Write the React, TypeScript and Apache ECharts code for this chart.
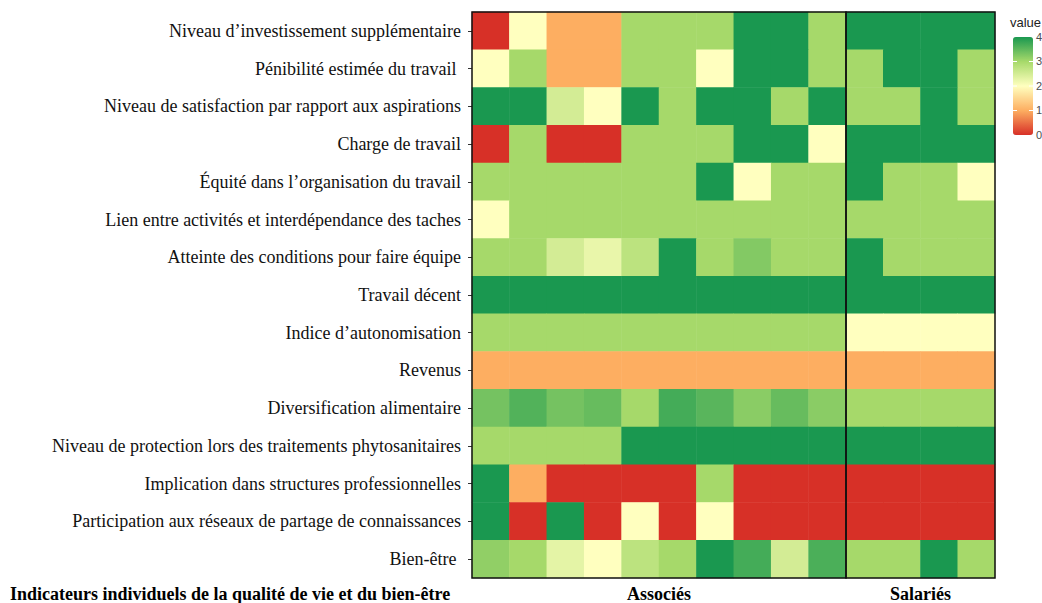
import React, { useEffect, useRef } from "react";
import * as echarts from "echarts";

const indicators = [
  "Niveau d’investissement supplémentaire",
  "Pénibilité estimée du travail ",
  "Niveau de satisfaction par rapport aux aspirations",
  "Charge de travail",
  "Équité dans l’organisation du travail",
  "Lien entre activités et interdépendance des taches",
  "Atteinte des conditions pour faire équipe",
  "Travail décent",
  "Indice d’autonomisation",
  "Revenus",
  "Diversification alimentaire",
  "Niveau de protection lors des traitements phytosanitaires",
  "Implication dans structures professionnelles",
  "Participation aux réseaux de partage de connaissances",
  "Bien-être ",
];

const associesCols = ["A1", "A2", "A3", "A4", "A5", "A6", "A7", "A8", "A9", "A10"];
const salariesCols = ["S1", "S2", "S3", "S4"];

const associesValues: number[][] = [
  [0, 2, 1, 1, 3, 3, 3, 4, 4, 3],
  [2, 3, 1, 1, 3, 3, 2, 4, 4, 3],
  [4, 4, 2.5, 2, 4, 3, 4, 4, 3, 4],
  [0, 3, 0, 0, 3, 3, 3, 4, 4, 2],
  [3, 3, 3, 3, 3, 3, 4, 2, 3, 3],
  [2, 3, 3, 3, 3, 3, 3, 3, 3, 3],
  [3, 3, 2.5, 2.25, 2.75, 4, 3, 3.25, 3, 3],
  [4, 4, 4, 4, 4, 4, 4, 4, 4, 4],
  [3, 3, 3, 3, 3, 3, 3, 3, 3, 3],
  [1, 1, 1, 1, 1, 1, 1, 1, 1, 1],
  [3.35, 3.6, 3.35, 3.45, 3, 3.7, 3.55, 3.2, 3.45, 3.2],
  [3, 3, 3, 3, 4, 4, 4, 4, 4, 4],
  [4, 1, 0, 0, 0, 0, 3, 0, 0, 0],
  [4, 0, 4, 0, 2, 0, 2, 0, 0, 0],
  [3.15, 3, 2.3, 2, 2.75, 3, 4, 3.7, 2.5, 3.65],
];

const salariesValues: number[][] = [
  [4, 4, 4, 4],
  [3, 4, 4, 3],
  [3, 3, 4, 3],
  [4, 4, 4, 4],
  [4, 3, 3, 2],
  [3, 3, 3, 3],
  [4, 3, 3, 3],
  [4, 4, 4, 4],
  [2, 2, 2, 2],
  [1, 1, 1, 1],
  [3, 3, 3, 3],
  [4, 4, 4, 4],
  [0, 0, 0, 0],
  [0, 0, 0, 0],
  [3, 3, 4, 3],
];

const legendTicks = [4, 3, 2, 1, 0];
const palette = ["#d73027", "#fdae61", "#ffffbf", "#a6d96a", "#1a9850"];

const G1 = { left: 472, top: 12, width: 374, height: 566 };
const G2 = { left: 846, top: 12, width: 149, height: 566 };
const BAR = { left: 1013, top: 37, width: 20, height: 98 };

function toData(rows: number[][]) {
  const out: number[][] = [];
  rows.forEach((row, r) => row.forEach((v, c) => out.push([c, r, v])));
  return out;
}

export default function App() {
  const ref = useRef<HTMLDivElement>(null);
  useEffect(() => {
    if (!ref.current) return;
    const chart = echarts.init(ref.current, undefined, { renderer: "svg" });
    const serif = "Liberation Serif";
    const sans = "Liberation Sans";
    const graphics: any[] = [
      {
        type: "rect",
        z: 100,
        shape: { x: G1.left, y: G1.top, width: G1.width, height: G1.height },
        style: { fill: "none", stroke: "#111", lineWidth: 1.5 },
      },
      {
        type: "rect",
        z: 100,
        shape: { x: G2.left, y: G2.top, width: G2.width, height: G2.height },
        style: { fill: "none", stroke: "#111", lineWidth: 1.5 },
      },
      {
        type: "text",
        left: 10,
        top: 585,
        style: {
          text: "Indicateurs individuels de la qualité de vie et du bien-être",
          fontFamily: serif,
          fontWeight: "bold",
          fontSize: 18,
          fill: "#000",
        },
      },
      {
        type: "text",
        x: 1010,
        y: 16,
        style: { text: "value", fontFamily: sans, fontSize: 13, fill: "#222" },
      },
    ];
    legendTicks.forEach((t) => {
      const y = BAR.top + BAR.height * (1 - t / 4);
      graphics.push({
        type: "text",
        x: 1036,
        y: y - 6,
        style: { text: String(t), fontFamily: sans, fontSize: 11, fill: "#4d4d4d" },
      });
      if (t > 0 && t < 4) {
        graphics.push({
          type: "line",
          z: 100,
          shape: { x1: BAR.left, y1: y, x2: BAR.left + 4, y2: y },
          style: { stroke: "#fff", lineWidth: 1 },
        });
        graphics.push({
          type: "line",
          z: 100,
          shape: { x1: BAR.left + BAR.width - 4, y1: y, x2: BAR.left + BAR.width, y2: y },
          style: { stroke: "#fff", lineWidth: 1 },
        });
      }
    });

    const xCommon = {
      type: "category" as const,
      axisLine: { show: false },
      axisTick: { show: false },
      axisLabel: { show: false },
      splitLine: { show: false },
      nameLocation: "middle" as const,
      nameGap: 7,
      nameTextStyle: {
        fontFamily: serif,
        fontWeight: "bold" as const,
        fontSize: 18,
        color: "#000",
        verticalAlign: "top" as const,
      },
    };

    chart.setOption({
      animation: false,
      backgroundColor: "#fff",
      grid: [
        { ...G1, containLabel: false, outerBoundsMode: "none" },
        { ...G2, containLabel: false, outerBoundsMode: "none" },
      ],
      xAxis: [
        { ...xCommon, gridIndex: 0, data: associesCols, name: "Associés" },
        { ...xCommon, gridIndex: 1, data: salariesCols, name: "Salariés" },
      ],
      yAxis: [
        {
          type: "category",
          gridIndex: 0,
          data: indicators,
          inverse: true,
          axisLine: { show: false },
          axisTick: { show: true, length: 4, alignWithLabel: true, lineStyle: { color: "#333" } },
          axisLabel: { fontFamily: serif, fontSize: 18, color: "#111", margin: 11 },
          splitLine: { show: false },
        },
        {
          type: "category",
          gridIndex: 1,
          data: indicators,
          inverse: true,
          axisLine: { show: false },
          axisTick: { show: false },
          axisLabel: { show: false },
          splitLine: { show: false },
        },
      ],
      visualMap: {
        type: "continuous",
        min: 0,
        max: 4,
        seriesIndex: [0, 1],
        calculable: false,
        orient: "vertical",
        left: BAR.left,
        top: BAR.top,
        itemWidth: BAR.width,
        itemHeight: BAR.height,
        padding: 0,
        text: ["", ""],
        showLabel: false,
        inRange: { color: palette },
      },
      graphic: graphics,
      series: [
        {
          type: "heatmap",
          xAxisIndex: 0,
          yAxisIndex: 0,
          data: toData(associesValues),
          itemStyle: { borderWidth: 0 },
          emphasis: { disabled: true },
        },
        {
          type: "heatmap",
          xAxisIndex: 1,
          yAxisIndex: 1,
          data: toData(salariesValues),
          itemStyle: { borderWidth: 0 },
          emphasis: { disabled: true },
        },
      ],
    });
    return () => chart.dispose();
  }, []);
  return (
    <div
      ref={ref}
      style={{ position: "fixed", left: 0, top: 0, width: 1042, height: 603, background: "#fff" }}
    />
  );
}
